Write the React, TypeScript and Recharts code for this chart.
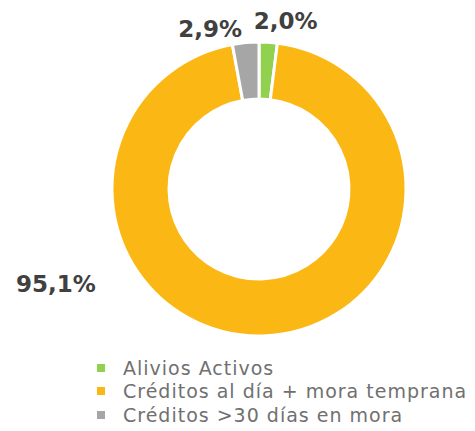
import { PieChart, Pie, Cell, Legend } from "recharts";

const categories = [
  "Alivios Activos",
  "Créditos al día + mora temprana",
  "Créditos >30 días en mora",
];
const shares = [2.0, 95.1, 2.9];
const labels = ["2,0%", "95,1%", "2,9%"];
const colors = ["#92d050", "#fbb714", "#a6a6a6"];

// where each percentage sits, as [angle in degrees, distance from centre]
const labelSpots: [number, number][] = [
  [81, 170],
  [205, 224],
  [107, 167],
];

const data = categories.map((name, i) => ({ name, value: shares[i] }));

const FONT = "'DejaVu Sans', sans-serif";

function renderLabel(props: any) {
  const { cx, cy, index } = props;
  const [deg, r] = labelSpots[index];
  const rad = (deg * Math.PI) / 180;
  const x = cx + r * Math.cos(rad);
  const y = cy - r * Math.sin(rad);
  return (
    <text
      x={x}
      y={y}
      textAnchor="middle"
      dominantBaseline="central"
      fill="#404040"
      fontSize={23}
      fontWeight={700}
      fontFamily={FONT}
    >
      {labels[index]}
    </text>
  );
}

function LegendBox() {
  return (
    <div style={{ fontFamily: FONT }}>
      {categories.map((c, i) => (
        <div
          key={c}
          style={{
            display: "flex",
            alignItems: "center",
            height: 23.5,
            fontSize: 19,
            letterSpacing: 1,
            color: "#707070",
            whiteSpace: "nowrap",
          }}
        >
          <span
            style={{
              width: 8,
              height: 8,
              background: colors[i],
              marginLeft: 97,
              marginRight: 18,
              display: "inline-block",
              flex: "none",
            }}
          />
          <span>{c}</span>
        </div>
      ))}
    </div>
  );
}

export default function App() {
  return (
    <div style={{ position: "absolute", left: 0, top: 0, background: "#fff" }}>
      <PieChart width={475} height={431} margin={{ top: 0, right: 0, bottom: 0, left: 0 }}>
        <Pie
          data={data}
          dataKey="value"
          cx={259}
          cy={189}
          innerRadius={90}
          outerRadius={147}
          startAngle={90}
          endAngle={-270}
          stroke="#ffffff"
          strokeWidth={3}
          label={renderLabel}
          labelLine={false}
          isAnimationActive={false}
        >
          {data.map((d, i) => (
            <Cell key={d.name} fill={colors[i]} />
          ))}
        </Pie>
        <Legend
          content={() => <LegendBox />}
          wrapperStyle={{ position: "absolute", left: 0, top: 356, width: 475 }}
        />
      </PieChart>
    </div>
  );
}
